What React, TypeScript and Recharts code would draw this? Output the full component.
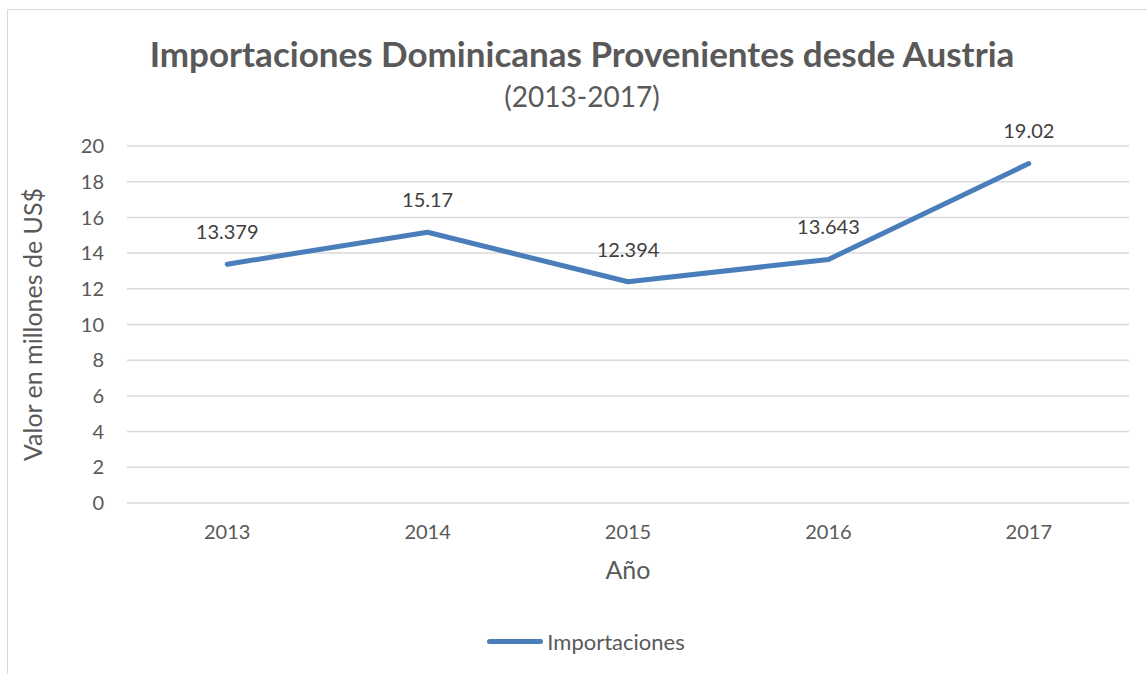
import React from 'react';
import { LineChart, Line, XAxis, YAxis, CartesianGrid, Legend, LabelList } from 'recharts';

const years = ['2013', '2014', '2015', '2016', '2017'];
const importaciones = [13.379, 15.17, 12.394, 13.643, 19.02];
const yTicks = [0, 2, 4, 6, 8, 10, 12, 14, 16, 18, 20];

const chartData = years.map((year, i) => ({ year, importaciones: importaciones[i] }));

const FONT = 'Lato, "Open Sans", sans-serif';
const TEXT = '#595959';

type LabelProps = { x?: number; y?: number; value?: number };

const PointLabel = ({ x, y, value }: LabelProps) => (
  <text x={x} y={(y ?? 0) - 32} dy="0.35em" textAnchor="middle" fill="#404040" fontSize={20} fontFamily={FONT}>
    {value}
  </text>
);

const LegendContent = () => (
  <div style={{ display: 'flex', alignItems: 'center', justifyContent: 'center', fontFamily: FONT, fontSize: 22, color: TEXT }}>
    <span style={{ display: 'inline-block', width: 56, height: 5, borderRadius: 3, background: '#4a7ebb', marginRight: 4 }} />
    <span>Importaciones</span>
  </div>
);

export default function App() {
  return (
    <div style={{ position: 'fixed', left: 0, top: 0, width: 1147, height: 674, overflow: 'hidden', background: '#fff' }}>
      <div style={{ position: 'absolute', left: 7, top: 9, width: 1200, height: 700, border: '1px solid #d9d9d9' }} />
      <div style={{ position: 'absolute', left: 0, top: 32, width: 1164, textAlign: 'center', fontFamily: FONT, fontWeight: 700, fontSize: 35, color: TEXT }}>
        Importaciones Dominicanas Provenientes desde Austria
      </div>
      <div style={{ position: 'absolute', left: 0, top: 79, width: 1164, textAlign: 'center', fontFamily: FONT, fontSize: 28, color: TEXT }}>
        (2013-2017)
      </div>
      <div style={{ position: 'absolute', left: 0, top: 0 }}>
        <LineChart width={1147} height={674} data={chartData} margin={{ top: 146, right: 18, bottom: 44, left: 0 }}>
          <CartesianGrid vertical={false} stroke="#d9d9d9" strokeWidth={1.5} />
          <XAxis
            dataKey="year"
            scale="band"
            axisLine={false}
            tickLine={false}
            tickSize={0}
            tickMargin={22}
            interval={0}
            tick={{ fill: TEXT, fontSize: 20, fontFamily: FONT }}
            height={100}
            label={{ value: 'Año', position: 'insideTop', offset: 58, fill: TEXT, fontSize: 25, fontFamily: FONT }}
          />
          <YAxis
            domain={[0, 20]}
            ticks={yTicks}
            interval={0}
            width={127}
            axisLine={false}
            tickLine={false}
            tickSize={0}
            tickMargin={23}
            tick={{ fill: TEXT, fontSize: 20, fontFamily: FONT }}
            label={{ value: 'Valor en millones de US$', angle: -90, position: 'insideLeft', offset: 33, fill: TEXT, fontSize: 25, fontFamily: FONT, style: { textAnchor: 'middle' } }}
          />
          <Legend content={<LegendContent />} wrapperStyle={{ top: 628, left: 0, width: 1172 }} />
          <Line
            type="linear"
            dataKey="importaciones"
            name="Importaciones"
            stroke="#4a7ebb"
            strokeWidth={5}
            strokeLinecap="round"
            strokeLinejoin="round"
            dot={false}
            isAnimationActive={false}
          >
            <LabelList dataKey="importaciones" content={<PointLabel />} />
          </Line>
        </LineChart>
      </div>
    </div>
  );
}
